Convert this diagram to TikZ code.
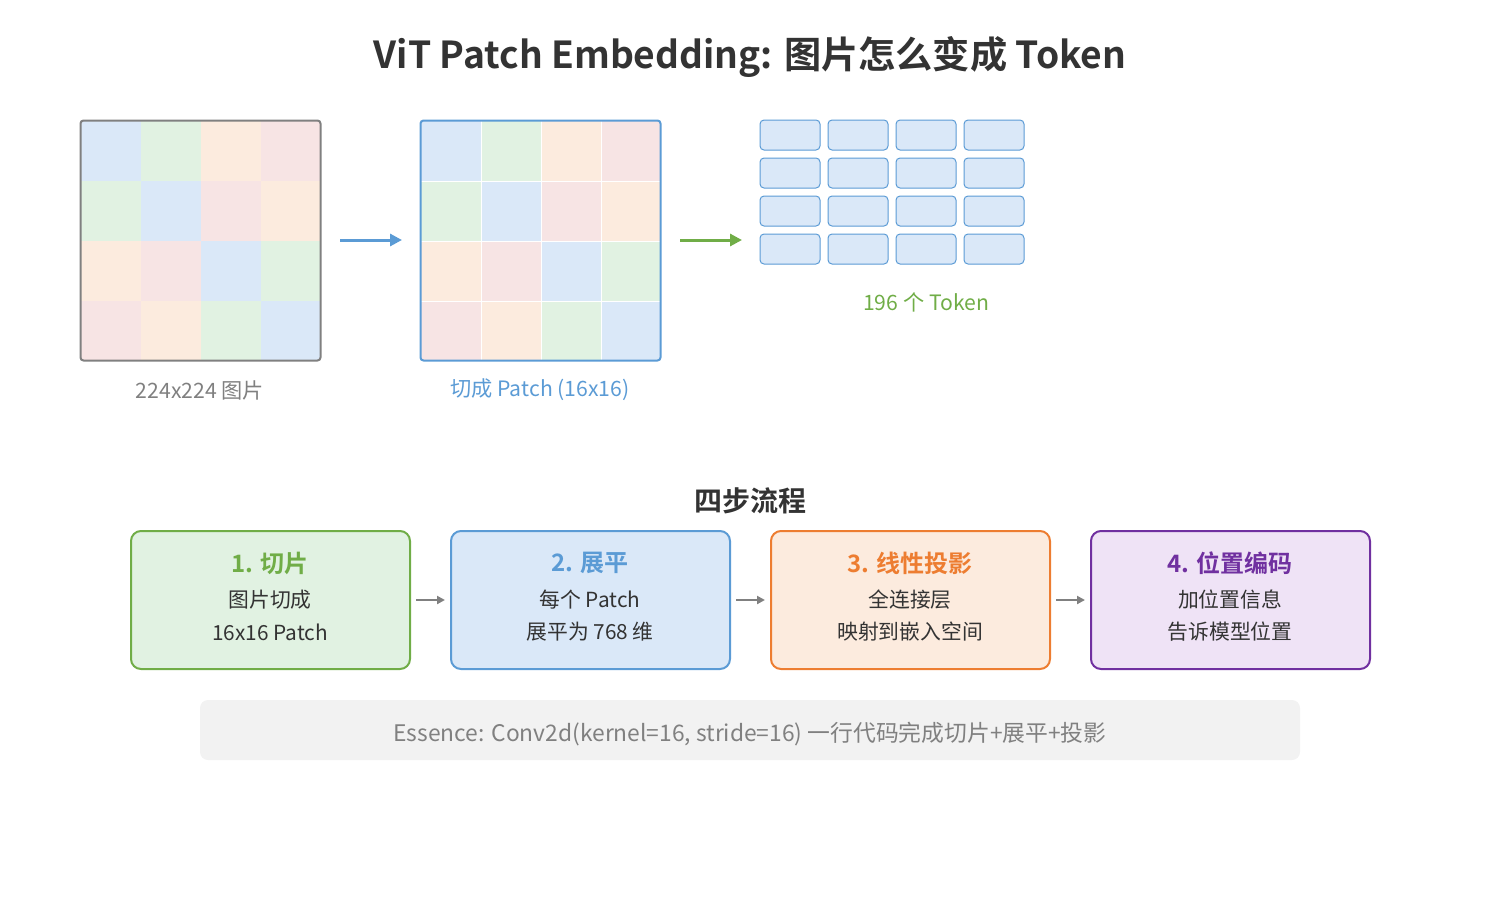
\documentclass[tikz,border=0pt]{standalone}
\usepackage{fontspec}
\setmainfont{Noto Sans CJK SC}[BoldFont={Noto Sans CJK SC Bold}]
\usetikzlibrary{arrows.meta}
\definecolor{cB}{HTML}{DAE8F8}
\definecolor{cG}{HTML}{E1F2E2}
\definecolor{cO}{HTML}{FCEBDE}
\definecolor{cP}{HTML}{F7E4E4}
\definecolor{cPu}{HTML}{EFE3F6}
\definecolor{txt}{HTML}{333333}
\definecolor{gr}{HTML}{808080}
\definecolor{bl}{HTML}{5B9BD5}
\definecolor{gn}{HTML}{70AD47}
\definecolor{og}{HTML}{ED7D31}
\definecolor{pu}{HTML}{7030A0}
\definecolor{barbg}{HTML}{F2F2F2}
\tikzset{
  gridbox/.style={minimum width=120pt,minimum height=120pt,inner sep=0pt,rounded corners=1.5pt,line width=1pt},
  tok/.style={draw=bl,fill=cB,line width=0.5pt,rounded corners=2pt,minimum width=30pt,minimum height=15pt,inner sep=0pt},
  stepbox/.style={line width=1pt,rounded corners=5pt,minimum width=139.5pt,minimum height=69pt,inner sep=0pt},
  steptitle/.style={font=\bfseries\fontsize{12}{14}\selectfont},
  stepline/.style={text=txt,font=\fontsize{10.4}{12}\selectfont},
  lbl/.style={font=\fontsize{10.6}{12}\selectfont},
  bigarrow/.style={line width=1.5pt,-{Triangle[length=6pt,width=6pt]}},
  smallarrow/.style={draw=gr,line width=1pt,-{Triangle[length=4pt,width=4pt]}}
}
\begin{document}
\begin{tikzpicture}[x=0.5pt,y=-0.5pt]
\useasboundingbox (0,0) rectangle (1500,900);
% title
\node[text=txt,font=\bfseries\fontsize{18.6}{22}\selectfont] (title) at (750,57) {ViT Patch Embedding: 图片怎么变成 Token};
% grid 1
\begin{scope}
\clip[rounded corners=1.5pt] (81,121) rectangle (320,360);
\foreach \r/\row in {0/{B,G,O,P},1/{G,B,P,O},2/{O,P,B,G},3/{P,O,G,B}}{
  \foreach \k [count=\c from 0] in \row {
    \fill[c\k] (81+60*\c,121+60*\r) rectangle ++(60,60);
  }
}
\end{scope}
\node[gridbox,draw=gr] (g1) at (200.5,240.5) {};
\node[lbl,text=gr] (g1lbl) at (200,390) {224x224 图片};
% grid 2
\begin{scope}
\clip[rounded corners=1.5pt] (421,121) rectangle (660,360);
\foreach \r/\row in {0/{B,G,O,P},1/{G,B,P,O},2/{O,P,B,G},3/{P,O,G,B}}{
  \foreach \k [count=\c from 0] in \row {
    \fill[c\k] (421+60*\c,121+60*\r) rectangle ++(60,60);
  }
}
\foreach \i in {1,2,3}{
  \draw[white,line width=0.5pt] (421+60*\i,121) -- (421+60*\i,360);
  \draw[white,line width=0.5pt] (421,121+60*\i) -- (660,121+60*\i);
}
\end{scope}
\node[gridbox,draw=bl] (g2) at (540.5,240.5) {};
\node[lbl,text=bl] (g2lbl) at (540,390) {切成 Patch (16x16)};
% arrows top
\coordinate (a1s) at (340,240);
\coordinate (a1e) at (402,240);
\draw[bigarrow,draw=bl,fill=bl] (a1s) -- (a1e);
\coordinate (a2s) at (680,240);
\coordinate (a2e) at (742,240);
\draw[bigarrow,draw=gn,fill=gn] (a2s) -- (a2e);
% tokens
\foreach \r in {0,1,2,3}{
  \foreach \c in {0,1,2,3}{
    \node[tok] (t\r\c) at (790+68*\c,135+38*\r) {};
  }
}
\node[lbl,text=gn] (toklbl) at (926,302) {196 个 Token};
% four steps
\node[text=txt,font=\bfseries\fontsize{14}{16}\selectfont] (fourtitle) at (750,501) {四步流程};
\node[stepbox,draw=gn,fill=cG] (s1) at (270.5,600) {};
\node[stepbox,draw=bl,fill=cB] (s2) at (590.5,600) {};
\node[stepbox,draw=og,fill=cO] (s3) at (910.5,600) {};
\node[stepbox,draw=pu,fill=cPu] (s4) at (1230.5,600) {};
\node[steptitle,text=gn] (s1t) at (270,563) {1. 切片};
\node[stepline] (s1a) at (270,600) {图片切成};
\node[stepline] (s1b) at (270,632) {16x16 Patch};
\node[steptitle,text=bl] (s2t) at (590,563) {2. 展平};
\node[stepline] (s2a) at (590,600) {每个 Patch};
\node[stepline] (s2b) at (590,632) {展平为 768 维};
\node[steptitle,text=og] (s3t) at (910,563) {3. 线性投影};
\node[stepline] (s3a) at (910,600) {全连接层};
\node[stepline] (s3b) at (910,632) {映射到嵌入空间};
\node[steptitle,text=pu] (s4t) at (1230,563) {4. 位置编码};
\node[stepline] (s4a) at (1230,600) {加位置信息};
\node[stepline] (s4b) at (1230,632) {告诉模型位置};
\draw[smallarrow,fill=gr] ([xshift=2.5pt]s1.east) -- ([xshift=-2.5pt]s2.west);
\draw[smallarrow,fill=gr] ([xshift=2.5pt]s2.east) -- ([xshift=-2.5pt]s3.west);
\draw[smallarrow,fill=gr] ([xshift=2.5pt]s3.east) -- ([xshift=-2.5pt]s4.west);
% bottom bar
\node[fill=barbg,rounded corners=4pt,minimum width=550pt,minimum height=30pt,inner sep=0pt] (bar) at (750,730) {};
\node[text=gr,font=\fontsize{11.4}{13}\selectfont] (bartxt) at (750,734) {Essence: Conv2d(kernel=16, stride=16) 一行代码完成切片+展平+投影};
\end{tikzpicture}
\end{document}
